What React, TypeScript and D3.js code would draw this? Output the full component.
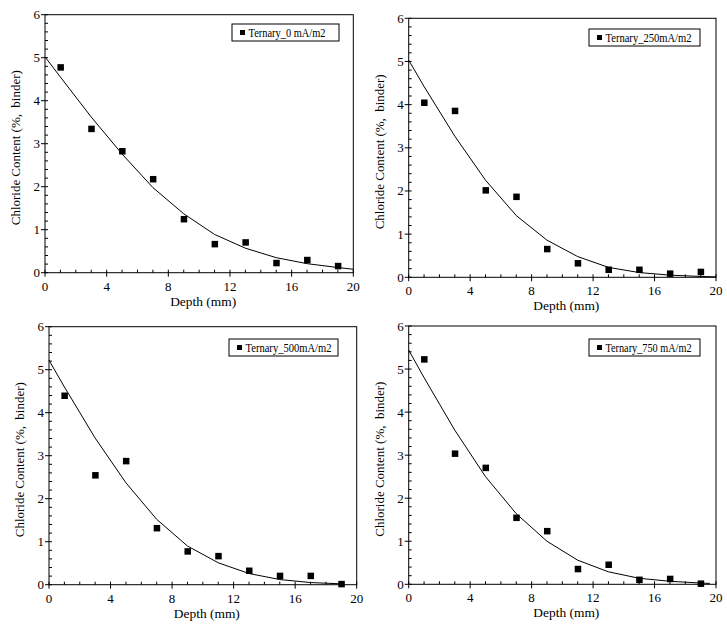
import React from "react";
import * as d3 from "d3";

const depth = [1, 3, 5, 7, 9, 11, 13, 15, 17, 19];
const chloride0 = [4.78, 3.35, 2.83, 2.18, 1.25, 0.67, 0.71, 0.23, 0.3, 0.16];
const chloride250 = [4.05, 3.86, 2.02, 1.87, 0.66, 0.33, 0.18, 0.18, 0.09, 0.13];
const chloride500 = [4.4, 2.55, 2.88, 1.32, 0.78, 0.67, 0.33, 0.21, 0.21, 0.02];
const chloride750 = [5.23, 3.04, 2.71, 1.55, 1.24, 0.36, 0.46, 0.11, 0.13, 0.02];

const fitDepth0 = [0, 1, 3, 5, 7, 9, 11, 13, 15, 17, 19, 20];
const fit0 = [5.02, 4.55, 3.62, 2.76, 1.98, 1.37, 0.89, 0.57, 0.35, 0.21, 0.12, 0.08];
const fitDepth250 = [0, 1, 3, 5, 7, 9, 11, 13, 15, 17, 19, 20];
const fit250 = [5.03, 4.42, 3.27, 2.25, 1.43, 0.86, 0.48, 0.23, 0.11, 0.05, 0.02, 0.01];
const fitDepth500 = [0, 1, 3, 5, 7, 9, 11, 13, 15, 17, 19];
const fit500 = [5.22, 4.6, 3.41, 2.37, 1.52, 0.9, 0.51, 0.26, 0.12, 0.05, 0.02];
const fitDepth750 = [0, 1, 3, 5, 7, 9, 11, 13, 15, 17, 19, 19.6];
const fit750 = [5.44, 4.8, 3.58, 2.5, 1.64, 1.0, 0.56, 0.29, 0.14, 0.07, 0.03, 0.02];

const legendLabels = ["Ternary_0 mA/m2", "Ternary_250mA/m2", "Ternary_500mA/m2", "Ternary_750 mA/m2"];
const xTicks = [0, 4, 8, 12, 16, 20];
const yTicks = [0, 1, 2, 3, 4, 5, 6];
const xTitle = "Depth (mm)";
const yTitle = "Chloride Content (%,  binder)";

const FONT = "Liberation Serif, Times New Roman, serif";

type PanelProps = {
  left: number; right: number; top: number; bottom: number;
  xs: number[]; ys: number[]; fx: number[]; fy: number[];
  label: string; legend: { x: number; y: number; w: number; tw: number };
};

function Panel({ left, right, top, bottom, xs, ys, fx, fy, label, legend }: PanelProps) {
  const x = d3.scaleLinear().domain([0, 20]).range([left, right]);
  const y = d3.scaleLinear().domain([0, 6]).range([bottom, top]);
  const line = d3.line<number>().x((_, i) => x(fx[i])).y((d) => y(d));
  const xMinor = d3.range(0, 20.01, 1).filter((v) => v % 4 !== 0);
  const yMinor = d3.range(0, 6.001, 0.2).filter((v) => Math.abs(v - Math.round(v)) > 1e-6);
  const midY = (top + bottom) / 2;
  return (
    <g>
      <rect x={left} y={top} width={right - left} height={bottom - top} fill="none" stroke="#000" strokeWidth={1} />
      {xMinor.map((v) => (
        <line key={"xm" + v} x1={x(v)} x2={x(v)} y1={bottom} y2={bottom - 3} stroke="#000" />
      ))}
      {xTicks.map((v) => (
        <g key={"xt" + v}>
          <line x1={x(v)} x2={x(v)} y1={bottom + 4} y2={bottom - 3} stroke="#000" />
          <text x={x(v)} y={bottom + 18} textAnchor="middle" fontSize={13} style={{ fontFamily: FONT }}>{v}</text>
        </g>
      ))}
      {yMinor.map((v) => (
        <line key={"ym" + v.toFixed(1)} x1={left} x2={left + 3} y1={y(v)} y2={y(v)} stroke="#000" />
      ))}
      {yTicks.map((v) => (
        <g key={"yt" + v}>
          <line x1={left - 4} x2={left + 3} y1={y(v)} y2={y(v)} stroke="#000" />
          <text x={left - 5} y={y(v) + 4.5} textAnchor="end" fontSize={13} style={{ fontFamily: FONT }}>{v}</text>
        </g>
      ))}
      <path d={line(fy) || ""} fill="none" stroke="#000" strokeWidth={1} />
      {xs.map((d, i) => (
        <rect key={"p" + i} x={x(d) - 3} y={y(ys[i]) - 3} width={6.5} height={6.5} fill="#000" />
      ))}
      <text x={(left + right) / 2 + 4} y={bottom + 33} textAnchor="middle" fontSize={13.5}
        textLength={66} lengthAdjust="spacingAndGlyphs" style={{ fontFamily: FONT }}>{xTitle}</text>
      <text
        transform={`translate(${left - 25},${midY + 4}) rotate(-90)`}
        textAnchor="middle" fontSize={13}
        textLength={155} lengthAdjust="spacing" style={{ whiteSpace: "pre", fontFamily: FONT }}
      >{yTitle}</text>
      <rect x={legend.x} y={legend.y} width={legend.w} height={17} fill="#fff" stroke="#000" strokeWidth={1} />
      <rect x={legend.x + 8} y={legend.y + 6} width={5} height={5} fill="#000" />
      <text x={legend.x + 16.5} y={legend.y + 12.5} fontSize={11.5} textLength={legend.tw}
        lengthAdjust="spacingAndGlyphs" style={{ fontFamily: FONT }}>{label}</text>
    </g>
  );
}

export default function App() {
  return (
    <svg width={727} height={631} style={{ display: "block", position: "absolute", left: 0, top: 0, background: "#fff" }}>
      <rect x={0} y={0} width={727} height={631} fill="#fff" />
      <Panel left={45} right={353.3} top={14.7} bottom={272.7} xs={depth} ys={chloride0} fx={fitDepth0} fy={fit0}
        label={legendLabels[0]} legend={{ x: 232, y: 24, w: 107, tw: 77 }} />
      <Panel left={408.7} right={716} top={18.3} bottom={277.3} xs={depth} ys={chloride250} fx={fitDepth250} fy={fit250}
        label={legendLabels[1]} legend={{ x: 589, y: 29, w: 111, tw: 86 }} />
      <Panel left={49} right={356.7} top={326.7} bottom={584.7} xs={depth} ys={chloride500} fx={fitDepth500} fy={fit500}
        label={legendLabels[2]} legend={{ x: 229, y: 339, w: 109, tw: 86 }} />
      <Panel left={408.7} right={716} top={326} bottom={584.3} xs={depth} ys={chloride750} fx={fitDepth750} fy={fit750}
        label={legendLabels[3]} legend={{ x: 589, y: 339, w: 111, tw: 86 }} />
    </svg>
  );
}
